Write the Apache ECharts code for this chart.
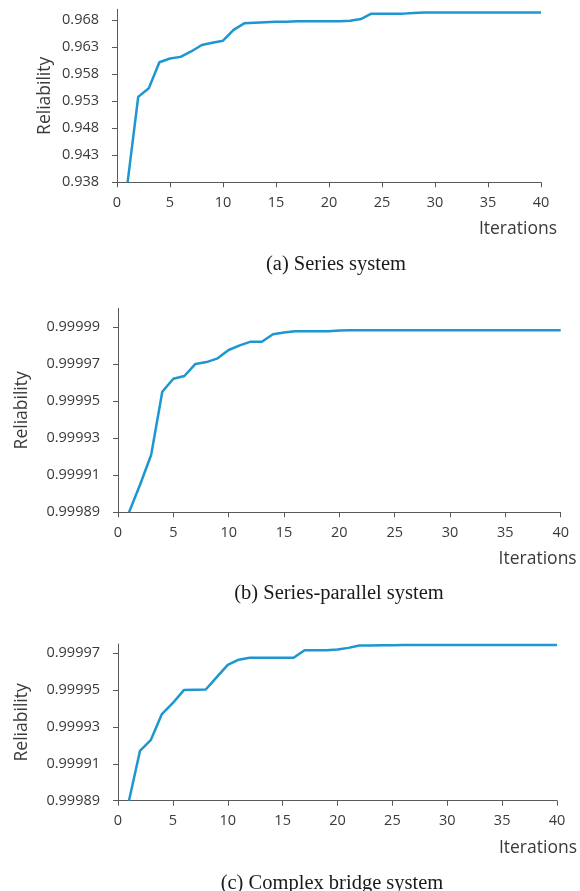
<!DOCTYPE html>
<html>
<head>
<meta charset="utf-8">
<script src="https://cdn.jsdelivr.net/npm/echarts@6/dist/echarts.min.js"></script>
<style>html,body{margin:0;padding:0;background:#fff;}#c{width:580px;height:891px;}</style>
</head>
<body>
<div id="c"></div>
<script>
var iterations = [1,2,3,4,5,6,7,8,9,10,11,12,13,14,15,16,17,18,19,20,21,22,23,24,25,26,27,28,29,30,31,32,33,34,35,36,37,38,39,40];
var seriesA = [0.9380,0.9538,0.9554,0.9602,0.9609,0.9612,0.9622,0.9634,0.9638,0.9642,
  0.9662,0.9674,0.9675,0.9676,0.9677,0.9677,0.9678,0.9678,0.9678,0.9678,
  0.9678,0.9679,0.9682,0.9692,0.9692,0.9692,0.9692,0.9693,0.9694,0.9694,
  0.9694,0.9694,0.9694,0.9694,0.9694,0.9694,0.9694,0.9694,0.9694,0.9694];
var seriesB = [0.999890,0.999905,0.999921,0.999955,0.999962,0.9999635,0.999970,0.999971,0.999973,0.9999775,
  0.999980,0.999982,0.999982,0.999986,0.999987,0.9999876,0.9999876,0.9999876,0.9999876,0.999988,
  0.9999882,0.9999882,0.9999882,0.9999882,0.9999882,0.9999882,0.9999882,0.9999882,0.9999882,0.9999882,
  0.9999882,0.9999882,0.9999882,0.9999882,0.9999882,0.9999882,0.9999882,0.9999882,0.9999882,0.9999882];
var seriesC = [0.999890,0.999917,0.999923,0.999937,0.999943,0.999950,0.9999502,0.9999503,0.999957,0.9999637,
  0.9999665,0.9999675,0.9999675,0.9999675,0.9999675,0.9999675,0.9999716,0.9999716,0.9999716,0.999972,
  0.9999729,0.9999742,0.9999742,0.9999743,0.9999743,0.9999744,0.9999744,0.9999744,0.9999744,0.9999744,
  0.9999744,0.9999744,0.9999744,0.9999744,0.9999744,0.9999744,0.9999744,0.9999744,0.9999744,0.9999744];
var xTicks = [0,5,10,15,20,25,30,35,40];
var yTicksA = [0.938,0.943,0.948,0.953,0.958,0.963,0.968];
var yTicksB = [0.99989,0.99991,0.99993,0.99995,0.99997,0.99999];
var yTicksC = [0.99989,0.99991,0.99993,0.99995,0.99997];
var captions = ['(a) Series system','(b) Series-parallel system','(c) Complex bridge system'];
var xName = 'Iterations';
var yName = 'Reliability';

var axisColor = '#595959';
var textColor = '#3a3a3a';
var lineColor = '#1e96d0';
var labelFont = {fontFamily:'Open Sans', fontSize:14.5, color:textColor};

function pairs(vals){ return iterations.map(function(x,i){ return [x, vals[i]]; }); }

var grids = [
  {left:117, top:9.3, width:424, height:173},
  {left:118, top:308.3, width:442.7, height:204},
  {left:118, top:644, width:439, height:156.7}
];
var yCfg = [
  {min:0.938, max:0.9700, ticks:yTicksA, dec:3, gap:63},
  {min:0.99989, max:1.0, ticks:yTicksB, dec:5, gap:87},
  {min:0.99989, max:0.999975, ticks:yTicksC, dec:5, gap:87}
];
var xGaps = [16, 16, 20];

var xAxes = [], yAxes = [], series = [], titles = [];
var capPos = [[331,249],[334,578],[327,868]];
[seriesA, seriesB, seriesC].forEach(function(vals, k){
  xAxes.push({
    type:'value', gridIndex:k, min:0, max:40,
    axisLine:{show:true, lineStyle:{color:axisColor, width:1}},
    axisTick:{show:true, inside:false, length:5, lineStyle:{color:axisColor}, customValues:xTicks},
    axisLabel:Object.assign({margin:13, customValues:xTicks}, labelFont),
    splitLine:{show:false},
    name:xName, nameLocation:'end', nameGap:xGaps[k], nameMoveOverlap:false,
    nameTextStyle:{fontFamily:'Open Sans', fontSize:17.5, color:textColor, align:'right', verticalAlign:'top', padding:[38,0,0,0]}
  });
  var c = yCfg[k];
  yAxes.push({
    type:'value', gridIndex:k, min:c.min, max:c.max,
    axisLine:{show:true, lineStyle:{color:axisColor, width:1}},
    axisTick:{show:true, inside:false, length:5, lineStyle:{color:axisColor}, customValues:c.ticks},
    axisLabel:Object.assign({margin:18, customValues:c.ticks, formatter:function(v){ return Number(v).toFixed(c.dec); }}, labelFont),
    splitLine:{show:false},
    name:yName, nameLocation:'middle', nameGap:c.gap, nameRotate:90, nameMoveOverlap:false,
    nameTextStyle:{fontFamily:'Open Sans', fontSize:17.5, color:textColor}
  });
  series.push({
    type:'line', xAxisIndex:k, yAxisIndex:k, data:pairs(vals),
    showSymbol:false, symbol:'none', smooth:false, clip:true,
    lineStyle:{color:lineColor, width:2.5}, animation:false
  });
  titles.push({
    text:captions[k], left:capPos[k][0], top:capPos[k][1], textAlign:'center',
    textStyle:{fontFamily:'Liberation Serif', fontSize:20.5, fontWeight:'normal', color:'#1a1a1a'}
  });
});

var chart = echarts.init(document.getElementById('c'), null, {renderer:'canvas'});
chart.setOption({
  animation:false,
  backgroundColor:'#fff',
  title:titles,
  grid:grids,
  xAxis:xAxes,
  yAxis:yAxes,
  series:series
});
</script>
</body>
</html>
